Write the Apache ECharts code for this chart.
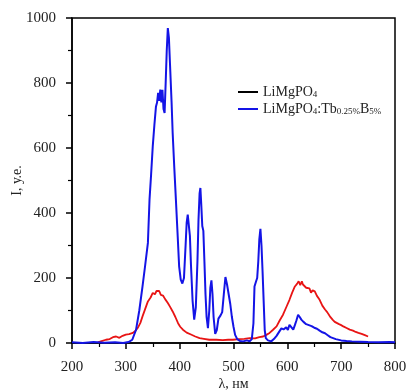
<!DOCTYPE html>
<html><head><meta charset="utf-8">
<script src="https://cdn.jsdelivr.net/npm/echarts@6/dist/echarts.min.js"></script>
<style>html,body{margin:0;padding:0;background:#fff}#c{width:407px;height:391px}</style>
</head><body><div id="c"></div>
<script>
const blueX=[200,220,240,260,280,295,305,312,319,325,331,336,341,344,347,350,353,356,358,360,362,364,366,368,370,372,374,376,378,380,382,385,387,390,393,396,399,402,405,408,411,413,415,417,419,421,424,427,430,433,435,437,438.5,440,442,444,446,448,450,452.5,455,457,459,461,463,466,469,472,476,479,482,485,488,491,494,497,500,503,507,512,518,525,530,534,537,539,542,544,546,548,550,552,554,556,558,560,564,570,575,580,585,589,593,598,601,604,607,611,614,617,620,623,626,630,635,640,645,650,655,660,665,670,675,680,685,690,700,710,720,735,750,770,790,800];
const blueY=[2,0,3,1,2,0,3,10,41,100,174,240,308,441,520,605,670,728,740,770,745,780,740,779,720,708,800,900,969,940,860,740,646,540,441,340,236,195,183,200,300,370,395,390,330,240,130,72,110,250,380,460,477,430,360,345,250,150,80,46,100,170,193,150,80,28,40,75,85,95,150,203,180,150,120,80,50,25,12,6,5,8,5,12,60,174,190,200,250,320,351,300,220,130,40,15,8,5,12,22,35,45,42,48,40,56,50,41,55,70,87,80,72,65,58,55,52,47,44,38,33,30,24,18,15,12,8,6,5,4,3,2,3,2];
const redX=[248,255,263,270,276,282,288,294,300,306,313,318,322,327,331,336,341,346,350,354,357,360,362,365,369,373,378,382,387,392,397,401,406,413,421,429,437,445,455,468,480,490,499,510,520,530,540,548,555,561,567,573,580,586,592,598,604,609,614,618,621,624,627,629,632,635,638,641,644,647,651,655,658,660,665,670,674,679,684,688,691,696,700,704,710,716,722,727,732,738,744,750];
const redY=[2,6,10,12,18,20,16,22,26,27,31,38,46,62,82,105,128,140,154,150,160,155,160,148,146,135,123,112,97,80,61,50,41,32,26,20,15,13,10,10,9,10,10,12,13,15,14,18,20,25,31,40,51,70,87,110,133,155,174,182,190,178,190,180,175,170,164,168,155,162,159,145,148,133,115,103,95,82,72,65,61,58,55,51,46,41,38,34,31,28,24,20];
const xTicks=[200,300,400,500,600,700,800];
const yTicks=[0,200,400,600,800,1000];
const name1='LiMgPO4', name2='LiMgPO4:Tb0.25%B5%';
const zip=(a,b)=>a.map((v,i)=>[v,b[i]]);
const F='Liberation Serif';
const chart=echarts.init(document.getElementById('c'),null,{renderer:'canvas'});
chart.setOption({
  animation:false,
  grid:{left:72,right:12,top:18,bottom:48,containLabel:false,outerBoundsMode:'none',show:true,borderColor:'#000',borderWidth:1.5,backgroundColor:'transparent'},
  legend:{data:[name1,name2],orient:'vertical',left:238,top:84,padding:0,itemWidth:20,itemHeight:2,icon:'rect',itemGap:1,
    textStyle:{fontFamily:F,fontSize:14,lineHeight:16,color:'#222',rich:{s:{fontFamily:F,fontSize:9,lineHeight:10,color:'#222',padding:[6,0,0,0]}}},
    formatter:n=>n===name1?'LiMgPO{s|4}':'LiMgPO{s|4}:Tb{s|0.25%}B{s|5%}'},
  xAxis:{type:'value',min:200,max:800,interval:100,
    name:'λ, нм',nameLocation:'middle',nameGap:34,nameMoveOverlap:false,nameTextStyle:{fontFamily:F,fontSize:14,color:'#222'},
    axisLine:{lineStyle:{color:'#000',width:1.5}},axisTick:{inside:false,length:6,lineStyle:{color:'#000',width:1.5}},
    minorTick:{show:true,splitNumber:2,length:4,lineStyle:{color:'#000',width:1.2}},
    axisLabel:{fontFamily:F,fontSize:15,color:'#222',margin:17,formatter:v=>String(v)},splitLine:{show:false}},
  yAxis:{type:'value',min:0,max:1000,interval:200,
    name:'I, у.е.',nameLocation:'middle',nameGap:48,nameMoveOverlap:false,nameTextStyle:{fontFamily:F,fontSize:14,color:'#222'},
    axisLine:{show:true,lineStyle:{color:'#000',width:1.5}},axisTick:{show:true,inside:false,length:6,lineStyle:{color:'#000',width:1.5}},
    minorTick:{show:true,splitNumber:2,length:4,lineStyle:{color:'#000',width:1.2}},
    axisLabel:{fontFamily:F,fontSize:15,color:'#222',margin:16,formatter:v=>String(v)},splitLine:{show:false}},
  series:[
    {name:name1,type:'line',data:[],color:'#000',showSymbol:false},
    {name:'red',type:'line',data:zip(redX,redY),color:'#e81414',showSymbol:false,lineStyle:{width:1.8},z:3},
    {name:name2,type:'line',data:zip(blueX,blueY),color:'#1414e6',showSymbol:false,lineStyle:{width:2},z:4}
  ]
});
</script></body></html>
